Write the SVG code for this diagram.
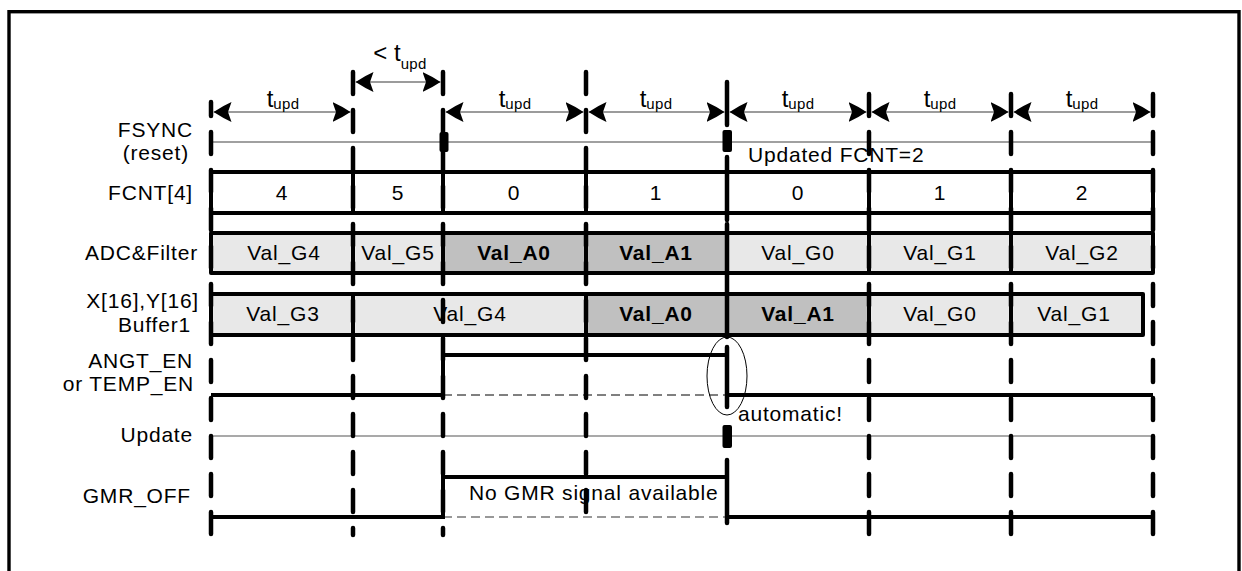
<svg xmlns="http://www.w3.org/2000/svg" width="1242" height="571" viewBox="0 0 1242 571">
<defs>
<style>
.t{font-family:"Liberation Sans",Arial,sans-serif;font-size:21px;letter-spacing:0.8px;fill:#000}
.r{text-anchor:end}
.m{text-anchor:middle}
.b{font-weight:bold}
.tt{font-size:24px;letter-spacing:0}
.sub{font-size:15px;letter-spacing:0.3px}
.lt{fill:#e8e8e8}
.dk{fill:#c0c0c0}
.bus{stroke:#000;stroke-width:4;fill:none;stroke-linecap:round;stroke-linejoin:round}
.gA{stroke:#000;stroke-width:4.5;fill:none;stroke-linecap:round;stroke-dasharray:22 16}
.solid{stroke:#000;stroke-width:4.5;fill:none;stroke-linecap:round}
.dim{stroke:#7a7a7a;stroke-width:1.5;fill:none}
.wave{stroke:#000;stroke-width:4;fill:none;stroke-linejoin:miter}
.thin{stroke:#808080;stroke-width:1.5;fill:none}
.upd{stroke:#555;stroke-width:1.2;fill:none}
.dsh{stroke:#000;stroke-width:1;fill:none;stroke-dasharray:9 5}
.dshg{stroke:#777;stroke-width:1.5;fill:none;stroke-dasharray:9 5}
.blk{fill:#000}
</style>
<marker id="ah" viewBox="-18 -10 18 20" refX="0" refY="0" markerWidth="18" markerHeight="20" markerUnits="userSpaceOnUse" orient="auto-start-reverse">
<path d="M0,0 Q-9,-6 -18,-10 L-14.5,0 L-18,10 Q-9,6 0,0Z" fill="#000"/>
</marker>
</defs>
<rect x="0" y="0" width="1242" height="571" fill="#fff"/>
<rect id="frame" x="9" y="11.7" width="1230" height="580" fill="none" stroke="#000" stroke-width="3.4"/>

<g id="labels">
<text class="t r" x="193" y="137">FSYNC</text>
<text class="t r" x="189" y="160">(reset)</text>
<text class="t r" x="193" y="200">FCNT[4]</text>
<text class="t r" x="198" y="260">ADC&amp;Filter</text>
<text class="t r" x="199" y="308">X[16],Y[16]</text>
<text class="t r" x="191" y="332">Buffer1</text>
<text class="t r" x="193" y="368">ANGT_EN</text>
<text class="t r" x="194" y="391">or TEMP_EN</text>
<text class="t r" x="193" y="442">Update</text>
<text class="t r" x="191" y="503">GMR_OFF</text>
</g>

<g id="fcnt-row">
<path class="bus" d="M211,172 H1153 M211,213 H1153 M211,172 V213 M353,172 V213 M443,172 V213 M586,172 V213 M727,172 V213 M869,172 V213 M1011,172 V213 M1153,172 V213"/>
<text class="t m" x="282" y="200">4</text>
<text class="t m" x="398" y="200">5</text>
<text class="t m" x="514" y="200">0</text>
<text class="t m" x="656" y="200">1</text>
<text class="t m" x="798" y="200">0</text>
<text class="t m" x="940" y="200">1</text>
<text class="t m" x="1082" y="200">2</text>
</g>

<g id="adc-row">
<rect class="lt" x="211" y="233" width="232" height="40"/>
<rect class="dk" x="443" y="233" width="284" height="40"/>
<rect class="lt" x="727" y="233" width="426" height="40"/>
<path class="bus" d="M211,233 H1153 M211,273 H1153 M211,233 V273 M353,233 V273 M443,233 V273 M586,233 V273 M727,233 V273 M869,233 V273 M1011,233 V273 M1153,233 V273"/>
<text class="t m" x="284" y="260">Val_G4</text>
<text class="t m" x="398" y="260">Val_G5</text>
<text class="t m b" x="514" y="260">Val_A0</text>
<text class="t m b" x="656" y="260">Val_A1</text>
<text class="t m" x="798" y="260">Val_G0</text>
<text class="t m" x="940" y="260">Val_G1</text>
<text class="t m" x="1082" y="260">Val_G2</text>
</g>

<g id="buffer-row">
<rect class="lt" x="211" y="294" width="375" height="41"/>
<rect class="dk" x="586" y="294" width="283" height="41"/>
<rect class="lt" x="869" y="294" width="274" height="41"/>
<path class="bus" d="M211,294 H1143 V335 H211 Z M353,294 V335 M586,294 V335 M727,294 V335 M869,294 V335 M1011,294 V335"/>
<text class="t m" x="283" y="321">Val_G3</text>
<text class="t m" x="470" y="321">Val_G4</text>
<text class="t m b" x="656" y="321">Val_A0</text>
<text class="t m b" x="798" y="321">Val_A1</text>
<text class="t m" x="940" y="321">Val_G0</text>
<text class="t m" x="1074" y="321">Val_G1</text>
</g>

<g id="texts">
<text class="t" x="748" y="162">Updated FCNT=2</text>
<text class="t" x="738" y="421">automatic!</text>
<text class="t" x="469" y="500">No GMR signal available</text>
</g>

<g id="signals">
<path class="thin" d="M211,142 H1153"/>
<path class="upd" d="M211,436 H1153"/>
<path class="dsh" d="M443,395 H727"/>
<path class="dshg" d="M443,517 H727"/>
<path class="wave" d="M211,395 H443 V355 H727 V395 H1153"/>
<path class="wave" d="M211,517 H443 V477 H727 V517 H1153"/>
</g>

<g id="gridlines">
<path class="gA" d="M211,102 V534" stroke-dashoffset="8"/>
<path class="gA" d="M353,72 V535"/>
<path class="gA" d="M443,72 V535"/>
<path class="gA" d="M586,72 V513"/>
<path class="solid" d="M727,82 V125 M727,157 V220 M727,224 V337 M727,347 V407 M727,460 V523"/>
<path class="gA" d="M869,94 V534"/>
<path class="gA" d="M1011,94 V534"/>
<path class="gA" d="M1153,94 V534"/>
<rect class="blk" x="439.5" y="132" width="9" height="20" rx="2"/>
<rect class="blk" x="722.5" y="130" width="9.5" height="22" rx="2"/>
<rect class="blk" x="722.5" y="425" width="9.5" height="23" rx="2"/>
<ellipse cx="727" cy="376" rx="20" ry="39" fill="none" stroke="#000" stroke-width="1"/>
</g>

<g id="dimensions">
<path class="dim" d="M213.5,112 H350.5" marker-start="url(#ah)" marker-end="url(#ah)"/>
<path class="dim" d="M355.5,82 H440.5" marker-start="url(#ah)" marker-end="url(#ah)"/>
<path class="dim" d="M445.5,112 H583.5" marker-start="url(#ah)" marker-end="url(#ah)"/>
<path class="dim" d="M588.5,112 H724.5" marker-start="url(#ah)" marker-end="url(#ah)"/>
<path class="dim" d="M729.5,112 H866.5" marker-start="url(#ah)" marker-end="url(#ah)"/>
<path class="dim" d="M871.5,112 H1008.5" marker-start="url(#ah)" marker-end="url(#ah)"/>
<path class="dim" d="M1013.5,112 H1150.5" marker-start="url(#ah)" marker-end="url(#ah)"/>
<text class="t m" x="283" y="107"><tspan class="tt">t</tspan><tspan class="sub" dy="2">upd</tspan></text>
<text class="t m" x="400" y="61"><tspan class="tt">&lt; t</tspan><tspan class="sub" dy="8">upd</tspan></text>
<text class="t m" x="515" y="107"><tspan class="tt">t</tspan><tspan class="sub" dy="2">upd</tspan></text>
<text class="t m" x="656" y="107"><tspan class="tt">t</tspan><tspan class="sub" dy="2">upd</tspan></text>
<text class="t m" x="798" y="107"><tspan class="tt">t</tspan><tspan class="sub" dy="2">upd</tspan></text>
<text class="t m" x="940" y="107"><tspan class="tt">t</tspan><tspan class="sub" dy="2">upd</tspan></text>
<text class="t m" x="1082" y="107"><tspan class="tt">t</tspan><tspan class="sub" dy="2">upd</tspan></text>
</g>
</svg>
